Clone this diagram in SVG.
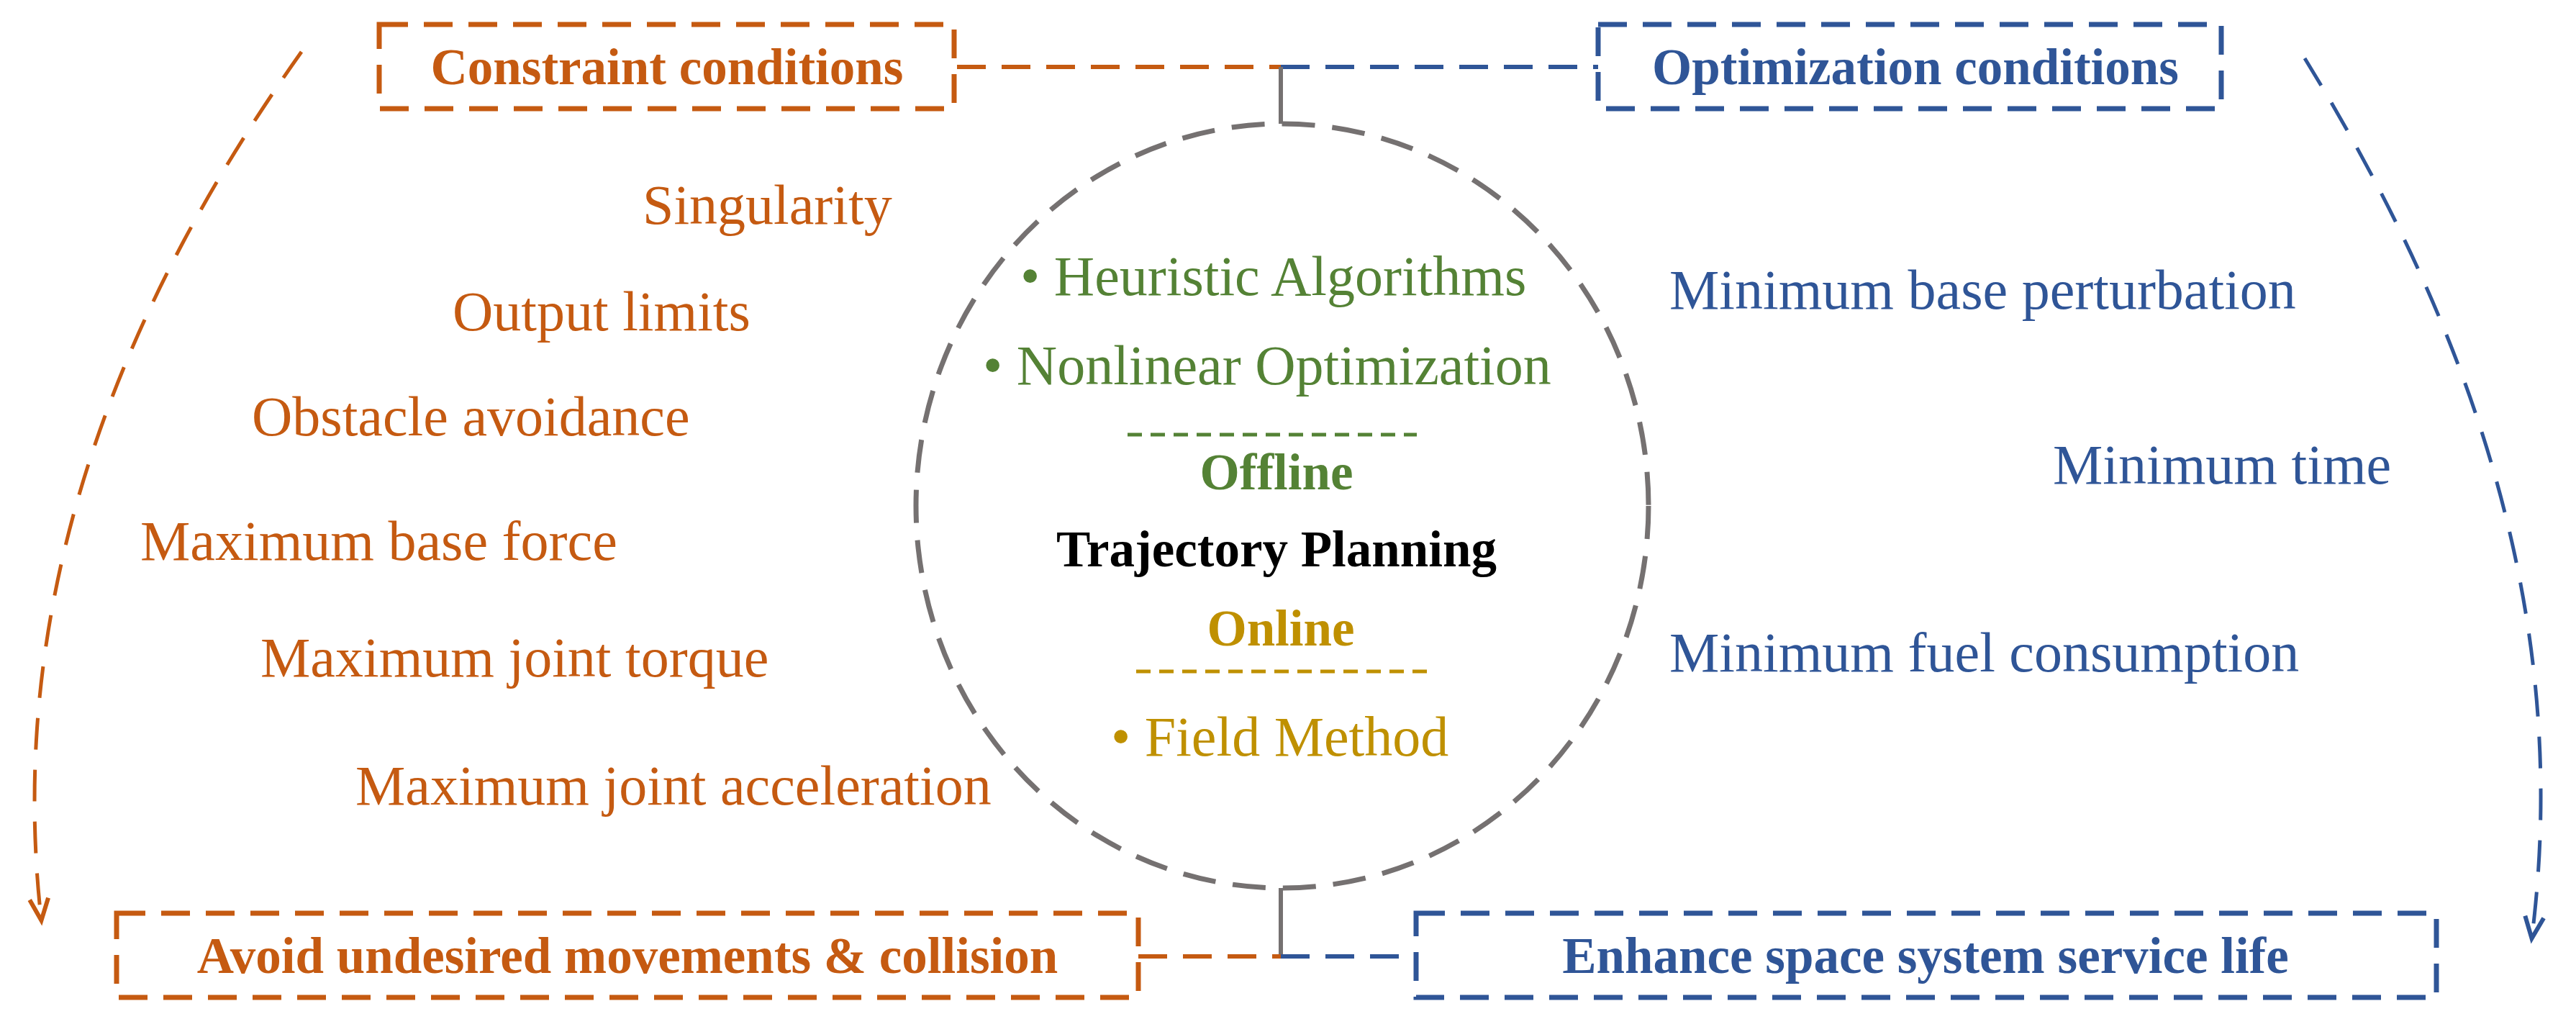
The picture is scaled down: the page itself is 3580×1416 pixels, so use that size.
<svg xmlns="http://www.w3.org/2000/svg" width="3580" height="1416" viewBox="0 0 3580 1416">
<style>
.o{fill:#C55A11}.b{fill:#2F5597}.g{fill:#548235}.y{fill:#BF9000}
text{font-family:"Liberation Serif",serif;font-size:78px}
.h{font-weight:bold;font-size:71px}
.bo{fill:none;stroke:#C55A11;stroke-width:7;stroke-dasharray:40 22}
.bb{fill:none;stroke:#2F5597;stroke-width:7;stroke-dasharray:40 22}
</style>
<defs>
<marker id="ao" markerWidth="10" markerHeight="10" refX="0" refY="0" orient="auto" markerUnits="userSpaceOnUse" style="overflow:visible"><path d="M-26,-13 L4,0 L-26,13" fill="none" stroke="#C55A11" stroke-width="6"/></marker>
<marker id="ab" markerWidth="10" markerHeight="10" refX="0" refY="0" orient="auto" markerUnits="userSpaceOnUse" style="overflow:visible"><path d="M-26,-13 L4,0 L-26,13" fill="none" stroke="#2F5597" stroke-width="6"/></marker>
</defs>
<g id="connectors" fill="none" stroke-width="6">
<path d="M1330,93 H1780" stroke="#C55A11" stroke-dasharray="40 22"/>
<path d="M1780,93 H2221" stroke="#2F5597" stroke-dasharray="40 22"/>
<path d="M1780,93 V172" stroke="#757171"/>
<path d="M1780,1234 V1329" stroke="#757171"/>
<path d="M1582,1329 H1780" stroke="#C55A11" stroke-dasharray="40 22"/>
<path d="M1780,1329 H1968" stroke="#2F5597" stroke-dasharray="40 22"/>
<path d="M419,72 C150,450 10,850 57,1275" stroke="#C55A11" stroke-width="5" stroke-dasharray="44 28" marker-end="url(#ao)"/>
<path d="M3203,81 C3430,450 3575,850 3519,1300" stroke="#2F5597" stroke-width="5" stroke-dasharray="44 28" marker-end="url(#ab)"/>
</g>
<g id="center">
<ellipse cx="1782" cy="703" rx="509" ry="531" fill="none" stroke="#757171" stroke-width="7" stroke-dasharray="46 24"/>
<text class="g" x="1418" y="410">• Heuristic Algorithms</text>
<text class="g" x="1366" y="534">• Nonlinear Optimization</text>
<path d="M1567,604 H1969" stroke="#548235" stroke-width="5" stroke-dasharray="20 12"/>
<text class="g h" x="1774" y="680" text-anchor="middle">Offline</text>
<text class="h" x="1774" y="787" text-anchor="middle" font-size="80" fill="#000">Trajectory Planning</text>
<text class="y h" x="1780" y="897" text-anchor="middle">Online</text>
<path d="M1579,933 H1987" stroke="#BF9000" stroke-width="5" stroke-dasharray="20 12"/>
<text class="y" x="1544" y="1050">• Field Method</text>
</g>
<g id="constraint">
<rect class="bo" x="527" y="34" width="799" height="117"/>
<text class="o h" x="927" y="117" text-anchor="middle">Constraint conditions</text>
<text class="o" x="893" y="311">Singularity</text>
<text class="o" x="629" y="459">Output limits</text>
<text class="o" x="350" y="605">Obstacle avoidance</text>
<text class="o" x="195" y="778">Maximum base force</text>
<text class="o" x="362" y="940">Maximum joint torque</text>
<text class="o" x="494" y="1118">Maximum joint acceleration</text>
</g>
<g id="optimization">
<rect class="bb" x="2221" y="34" width="866" height="117"/>
<text class="b h" x="2662" y="117" text-anchor="middle">Optimization conditions</text>
<text class="b" x="2320" y="429">Minimum base perturbation</text>
<text class="b" x="2853" y="672">Minimum time</text>
<text class="b" x="2320" y="933">Minimum fuel consumption</text>
</g>
<g id="avoid">
<rect class="bo" x="162" y="1269" width="1420" height="117"/>
<text class="o h" x="872" y="1352" text-anchor="middle">Avoid undesired movements &amp; collision</text>
</g>
<g id="enhance">
<rect class="bb" x="1968" y="1269" width="1418" height="117"/>
<text class="b h" x="2676" y="1352" text-anchor="middle">Enhance space system service life</text>
</g>
</svg>
